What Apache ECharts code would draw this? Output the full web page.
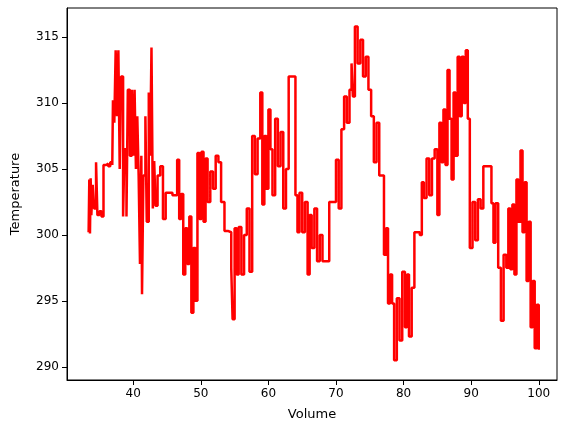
<!DOCTYPE html>
<html>
<head>
<meta charset="utf-8">
<script src="https://cdn.jsdelivr.net/npm/echarts@6/dist/echarts.min.js"></script>
<style>html,body{margin:0;padding:0;background:#fff}#chart{width:571px;height:432px}</style>
</head>
<body>
<div id="chart"></div>
<script>
// readings from the picture (volume, temperature)
var volume = [33.4,33.5,33.6,33.7,33.8,34.0,34.2,34.5,34.7,35.0,35.3,35.6,36.0,36.3,36.6,36.9,37.0,37.2,37.4,37.6,37.8,38.0,38.2,38.5,38.7,39.0,39.2,39.5,39.8,40.0,40.2,40.4,40.6,40.8,41.0,41.2,41.3,41.5,41.8,42.0,42.3,42.5,42.7,42.9,43.1,43.3,43.6,44.0,44.4,44.8,45.3,45.8,46.2,46.5,46.8,47.1,47.4,47.7,48.0,48.3,48.6,48.9,49.2,49.5,49.8,50.1,50.4,50.7,51.0,51.4,51.8,52.2,52.6,53.0,53.5,54.0,54.5,54.7,55.0,55.3,55.6,56.0,56.4,56.8,57.2,57.6,58.0,58.4,58.8,59.1,59.4,59.7,60.0,60.3,60.6,61.0,61.4,61.8,62.2,62.6,63.0,63.6,64.0,64.3,64.6,65.0,65.4,65.8,66.1,66.4,66.8,67.2,67.6,68.0,68.5,69.0,69.5,70.0,70.4,70.8,71.2,71.6,72.0,72.3,72.5,72.8,73.2,73.6,74.0,74.4,74.8,75.2,75.6,76.0,76.4,76.8,77.1,77.4,77.7,78.0,78.3,78.6,79.0,79.4,79.8,80.2,80.5,80.8,81.2,81.6,82.0,82.4,82.7,83.0,83.4,83.8,84.2,84.6,85.0,85.3,85.6,85.9,86.2,86.5,86.8,87.1,87.4,87.7,88.0,88.3,88.6,88.9,89.2,89.5,89.8,90.2,90.6,91.0,91.4,91.8,92.2,92.6,93.0,93.3,93.6,94.0,94.4,94.8,95.2,95.5,95.8,96.1,96.4,96.7,97.0,97.3,97.6,97.9,98.2,98.5,98.8,99.1,99.4,99.7,100.0];
var temperature = [300.2,304.2,300.1,304.3,301.5,303.8,302.0,305.5,301.5,301.8,301.4,305.3,305.4,305.2,305.5,305.3,310.2,308.5,314.0,309.0,314.0,305.0,312.0,301.4,306.5,301.4,311.0,306.0,311.0,306.0,311.0,305.0,309.0,304.5,297.8,306.0,295.5,304.5,309.0,301.0,310.8,306.0,314.2,302.0,305.6,302.2,304.5,305.2,301.2,303.2,303.2,303.0,303.0,305.7,301.2,303.1,297.0,300.5,297.8,301.4,294.1,299.0,295.0,306.2,301.2,306.3,301.0,305.8,302.5,304.8,303.5,306.0,305.5,302.5,300.3,300.2,297.5,293.6,300.5,297.0,300.6,297.0,300.0,302.0,297.2,307.5,304.6,307.3,310.8,302.3,307.5,303.5,309.5,306.5,303.0,308.8,305.2,307.8,302.0,305.0,312.0,312.0,303.0,300.2,303.2,300.2,302.5,297.0,301.5,299.0,302.0,298.0,300.0,298.0,298.0,302.5,302.5,305.7,302.0,308.0,310.5,308.5,311.0,313.0,310.5,315.8,313.0,314.8,312.0,313.5,311.0,309.0,305.5,308.5,304.5,304.5,298.5,300.5,294.8,297.0,294.8,290.5,295.2,292.0,297.2,293.0,297.0,292.3,296.0,300.2,300.2,300.0,304.0,302.8,305.8,303.0,305.8,306.5,301.5,308.5,305.5,309.5,305.3,312.5,308.8,304.2,310.8,306.0,313.5,309.0,313.5,310.0,314.0,308.8,299.0,302.5,299.6,302.7,302.0,305.2,305.2,305.2,302.4,299.4,302.4,297.5,293.5,298.5,297.5,302.0,297.4,302.3,297.0,304.2,301.0,306.4,300.2,304.0,296.5,301.0,293.0,296.5,291.4,294.7,291.3,294.7,291.4,296.5];

var points = volume.map(function (v, i) { return [v, temperature[i]]; });
var xTicks = [40, 50, 60, 70, 80, 90, 100];
var yTicks = [290, 295, 300, 305, 310, 315];

var chart = echarts.init(document.getElementById('chart'));
chart.setOption({
  animation: false,
  grid: { left: 67, right: 14, top: 8, bottom: 52, show: true, borderColor: '#000', borderWidth: 1 },
  xAxis: {
    type: 'value', min: 30.2, max: 102.7,
    name: 'Volume', nameLocation: 'middle', nameGap: 28,
    nameTextStyle: { color: '#000', fontSize: 13, fontFamily: 'DejaVu Sans' },
    axisLine: { show: true, onZero: false, lineStyle: { color: '#000' } },
    axisTick: { show: true, customValues: xTicks, lineStyle: { color: '#000' } },
    axisLabel: { customValues: xTicks, color: '#000', fontSize: 12, fontFamily: 'DejaVu Sans' },
    splitLine: { show: false }
  },
  yAxis: {
    type: 'value', min: 289, max: 317.2,
    name: 'Temperature', nameLocation: 'middle', nameGap: 45,
    nameTextStyle: { color: '#000', fontSize: 13, fontFamily: 'DejaVu Sans' },
    axisLine: { show: true, onZero: false, lineStyle: { color: '#000' } },
    axisTick: { show: true, customValues: yTicks, lineStyle: { color: '#000' } },
    axisLabel: { customValues: yTicks, color: '#000', fontSize: 12, fontFamily: 'DejaVu Sans' },
    splitLine: { show: false }
  },
  series: [{
    type: 'line', data: points, showSymbol: false, step: 'end',
    lineStyle: { color: '#ff0000', width: 2.5 }
  }]
});
</script>
</body>
</html>
